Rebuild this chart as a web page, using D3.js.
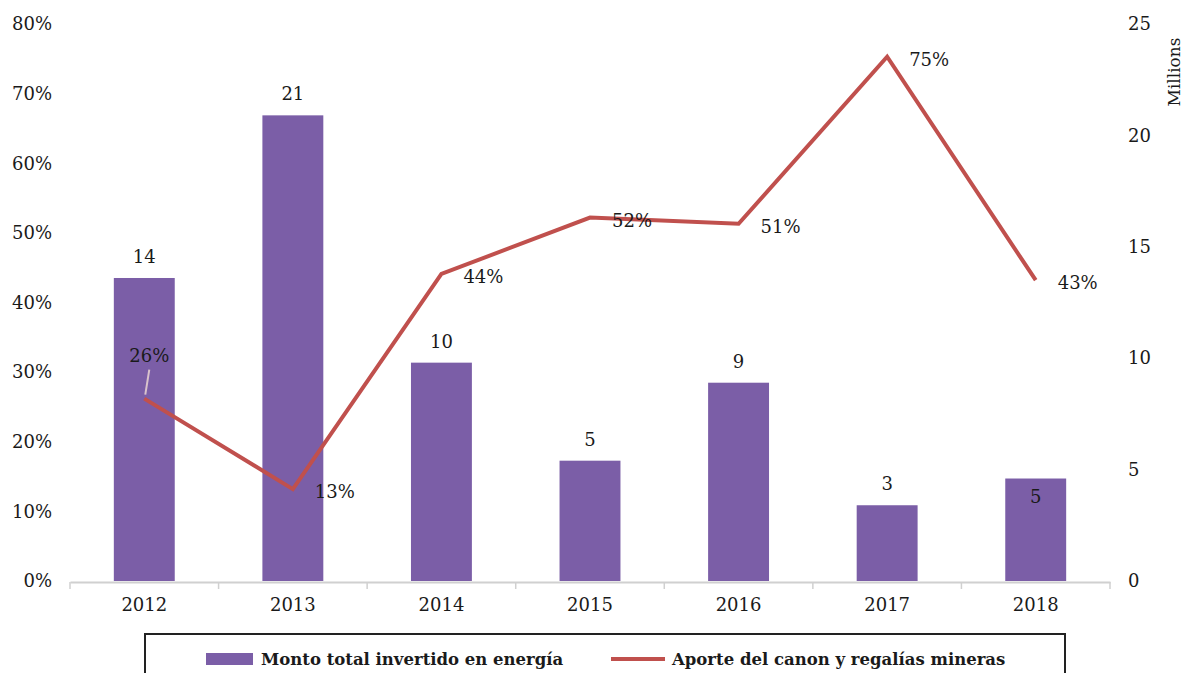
<!DOCTYPE html>
<html><head><meta charset="utf-8">
<script src="https://cdn.jsdelivr.net/npm/d3@7"></script>
<style>
html,body{margin:0;padding:0;background:#fff;}
svg text{font-family:"DejaVu Serif",serif;fill:#1a1a1a;}
</style></head>
<body><svg id="c" width="1185" height="673"></svg>
<script>
const years = ["2012","2013","2014","2015","2016","2017","2018"];
const montoMillones = [13.6, 20.9, 9.8, 5.4, 8.9, 3.4, 4.6];
const aportePct = [0.262, 0.132, 0.441, 0.522, 0.513, 0.753, 0.432];
const leftTicks = [0,0.1,0.2,0.3,0.4,0.5,0.6,0.7,0.8];
const rightTicks = [0,5,10,15,20,25];
const serieBar = "Monto total invertido en energía";
const serieLine = "Aporte del canon y regalías mineras";
const rightTitle = "Millions";

const svg = d3.select("#c");
const L = 70, R = 1110, T = 24, B = 581;
const x = d3.scaleBand().domain(years).range([L,R]).padding(0);
const yL = d3.scaleLinear().domain([0,0.8]).range([B,T]);
const yR = d3.scaleLinear().domain([0,25]).range([B,T]);
const barW = x.bandwidth()*0.41;
const fs = 18;

// bars
svg.append("g").selectAll("rect").data(montoMillones).join("rect")
  .attr("x",(d,i)=>x(years[i])+x.bandwidth()/2-barW/2)
  .attr("y",d=>yR(d))
  .attr("width",barW)
  .attr("height",d=>B-yR(d))
  .attr("fill","#7b5ea7");

// x axis
const xAxis = d3.axisBottom(x).tickSize(0).tickPadding(16);
const gx = svg.append("g").attr("transform",`translate(0,${B+1})`).call(xAxis);
gx.select(".domain").attr("stroke","#d0d0d0").attr("stroke-width",2);
gx.selectAll("text").style("font-size",fs+"px").style("font-family","DejaVu Serif").attr("fill","#1a1a1a");
// category separators
svg.append("g").selectAll("line").data(years.concat(["end"])).join("line")
  .attr("x1",(d,i)=>L+i*x.bandwidth()).attr("x2",(d,i)=>L+i*x.bandwidth())
  .attr("y1",B+1).attr("y2",B+8).attr("stroke","#d0d0d0").attr("stroke-width",1.5);

// left axis
const gl = svg.append("g").attr("transform",`translate(52,0)`)
  .call(d3.axisLeft(yL).tickValues(leftTicks).tickFormat(d3.format(".0%")).tickSize(0).tickPadding(0));
gl.select(".domain").remove();
gl.selectAll("text").style("font-size",fs+"px").style("font-family","DejaVu Serif").attr("fill","#1a1a1a");

// right axis
const gr = svg.append("g").attr("transform",`translate(1128,0)`)
  .call(d3.axisRight(yR).tickValues(rightTicks).tickFormat(d3.format("d")).tickSize(0).tickPadding(0));
gr.select(".domain").remove();
gr.selectAll("text").style("font-size",fs+"px").style("font-family","DejaVu Serif").attr("fill","#1a1a1a");
svg.append("text").attr("transform",`translate(1180,72) rotate(-90)`)
  .attr("text-anchor","middle").style("font-size","17px").text(rightTitle);

// bar labels
svg.append("g").selectAll("text").data(montoMillones).join("text")
  .attr("x",(d,i)=>x(years[i])+x.bandwidth()/2)
  .attr("y",(d,i)=> i===montoMillones.length-1 ? yR(d)+24 : yR(d)-15)
  .attr("text-anchor","middle").style("font-size",fs+"px")
  .text(d=>d3.format(".0f")(d));

// line
const line = d3.line().x((d,i)=>x(years[i])+x.bandwidth()/2).y(d=>yL(d));
svg.append("path").datum(aportePct).attr("d",line)
  .attr("fill","none").attr("stroke","#c0504d").attr("stroke-width",4).attr("stroke-linejoin","miter");

// line labels
const pf = d3.format(".0%");
svg.append("g").selectAll("text").data(aportePct).join("text")
  .attr("x",(d,i)=> i===0 ? x(years[i])+x.bandwidth()/2+5 : x(years[i])+x.bandwidth()/2+22)
  .attr("y",(d,i)=> i===0 ? yL(d)-37 : yL(d)+9)
  .attr("text-anchor",(d,i)=> i===0 ? "middle":"start")
  .style("font-size",fs+"px")
  .text(d=>pf(d));
// leader line for first label
const p0x = x(years[0])+x.bandwidth()/2, p0y = yL(aportePct[0]);
svg.append("line").attr("x1",p0x+5).attr("y1",p0y-29).attr("x2",p0x+1).attr("y2",p0y-4)
  .attr("stroke","#d9c3cc").attr("stroke-width",2);

// legend
svg.append("rect").attr("x",145).attr("y",634).attr("width",920).attr("height",60)
  .attr("fill","none").attr("stroke","#222").attr("stroke-width",2);
svg.append("rect").attr("x",206).attr("y",653).attr("width",47).attr("height",12).attr("fill","#7b5ea7");
svg.append("text").attr("x",261).attr("y",665).style("font-size","16.5px").style("font-weight","bold").text(serieBar);
svg.append("line").attr("x1",611).attr("x2",665).attr("y1",659).attr("y2",659).attr("stroke","#c0504d").attr("stroke-width",4);
svg.append("text").attr("x",672).attr("y",665).style("font-size","16.5px").style("font-weight","bold").text(serieLine);
</script></body></html>
